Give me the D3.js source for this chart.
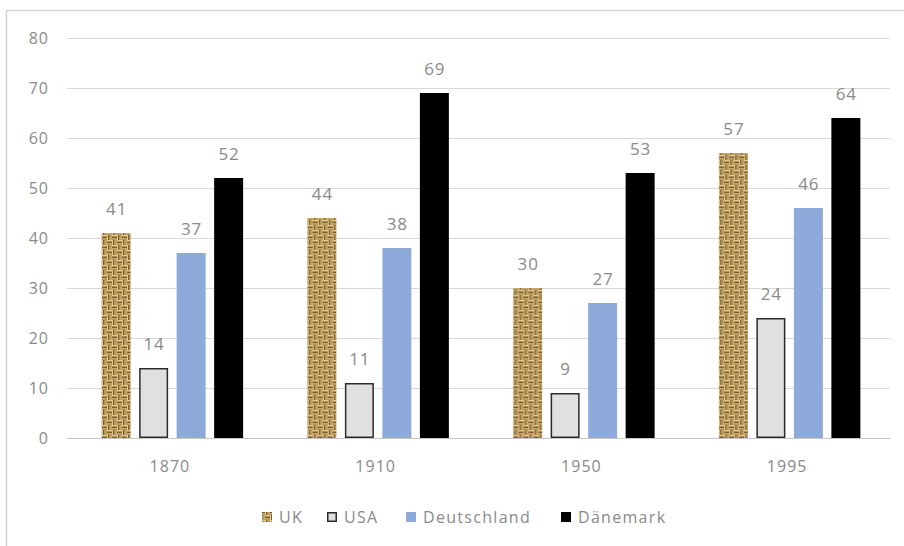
<!DOCTYPE html>
<html><head><meta charset="utf-8">
<script src="https://cdn.jsdelivr.net/npm/d3@7"></script>
<style>body{margin:0;background:#fff}svg{display:block}text{font-family:"Open Sans","Noto Sans",sans-serif}</style>
</head><body>
<script>
const years = ["1870","1910","1950","1995"];
const seriesNames = ["UK","USA","Deutschland","Dänemark"];
const ukValues = [41,44,30,57];
const usaValues = [14,11,9,24];
const deValues = [37,38,27,46];
const dkValues = [52,69,53,64];
const yTicks = [0,10,20,30,40,50,60,70,80];

const allValues = [ukValues, usaValues, deValues, dkValues];
const W = 904, H = 546;
const svg = d3.select("body").append("svg").attr("width", W).attr("height", H);

// basket-weave texture for UK
const defs = svg.append("defs");
const pat = defs.append("pattern").attr("id","burlap").attr("patternUnits","userSpaceOnUse")
  .attr("width",10).attr("height",10);
pat.append("rect").attr("width",10).attr("height",10).attr("fill","#e3c98b");
const dk = "#7d5c27";
const weave = [
  [0,1.5,5,1.5,1],[0,3.5,5,1.2,0.65],
  [6,0,1.5,5,1],[8.3,0,1.2,5,0.6],
  [5,6.5,5,1.5,1],[5,8.5,5,1.2,0.65],
  [1,5,1.5,5,1],[3.3,5,1.2,5,0.6]
];
weave.forEach(r => pat.append("rect").attr("x",r[0]).attr("y",r[1]).attr("width",r[2]).attr("height",r[3])
  .attr("fill",dk).attr("opacity",r[4]));

const fills = ["url(#burlap)","#e0e0e0","#8eaadb","#000000"];
const strokes = ["none","#2b2b2b","none","none"];

// outer border
svg.append("rect").attr("x",6.5).attr("y",10.5).attr("width",1000).attr("height",1000)
  .attr("fill","none").attr("stroke","#d4d4d4").attr("stroke-width",1.5);

const x0 = d3.scaleBand().domain(years).range([67,890]).padding(0);
const x1 = d3.scaleBand().domain(seriesNames).range([0,x0.bandwidth()])
  .paddingInner(0.227).paddingOuter(0.857).align(0.539);
const y = d3.scaleLinear().domain([0,80]).range([438,38]);

const txtColor = "#8a8a8a";
const lsp = "1px";

// gridlines
const yAxis = d3.axisLeft(y).tickValues(yTicks).tickSize(-(890-67)).tickPadding(20);
const gy = svg.append("g").attr("transform","translate(67,0)").call(yAxis);
gy.select(".domain").remove();
gy.selectAll(".tick line").attr("stroke","#d9d9d9").attr("stroke-width",1);
gy.selectAll(".tick text").attr("fill",txtColor).style("font-size","16px")
  .style("letter-spacing",lsp).attr("x",-18);

// bars
const groups = svg.append("g").selectAll("g").data(years).join("g")
  .attr("transform", d => `translate(${x0(d)},0)`);
groups.each(function(yr, i){
  const g = d3.select(this);
  seriesNames.forEach((s, k) => {
    const v = allValues[k][i];
    const sw = strokes[k] === "none" ? 0 : 1.5;
    g.append("rect")
      .attr("x", x1(s) + sw/2).attr("y", y(v) + sw/2)
      .attr("width", x1.bandwidth() - sw).attr("height", y(0) - y(v) - sw)
      .attr("fill", fills[k]).attr("stroke", strokes[k]).attr("stroke-width", sw);
    g.append("text").attr("x", x1(s) + x1.bandwidth()/2 + 0.5).attr("y", y(v) - 18)
      .attr("text-anchor","middle").attr("fill",txtColor).style("font-size","17px")
      .style("letter-spacing",lsp).text(v);
  });
});

// x axis
const xAxis = d3.axisBottom(x0).tickSize(0).tickPadding(23);
const gx = svg.append("g").attr("transform","translate(0,438)").call(xAxis);
gx.select(".domain").attr("stroke","#c8c8c8").attr("stroke-width",1.2);
gx.selectAll(".tick text").attr("fill",txtColor).style("font-size","16px").style("letter-spacing",lsp);

// legend
const legendX = [262, 327, 406, 561];
const leg = svg.append("g");
seriesNames.forEach((s,k) => {
  const sw = strokes[k] === "none" ? 0 : 1.5;
  leg.append("rect").attr("x", legendX[k] + sw/2).attr("y", 512 + sw/2)
    .attr("width", 10 - sw).attr("height", 10 - sw)
    .attr("fill", fills[k]).attr("stroke", strokes[k]).attr("stroke-width", sw);
  leg.append("text").attr("x", legendX[k] + 17).attr("y", 523)
    .attr("fill",txtColor).style("font-size","16px").style("letter-spacing","1.3px").text(s);
});
</script>
</body></html>
